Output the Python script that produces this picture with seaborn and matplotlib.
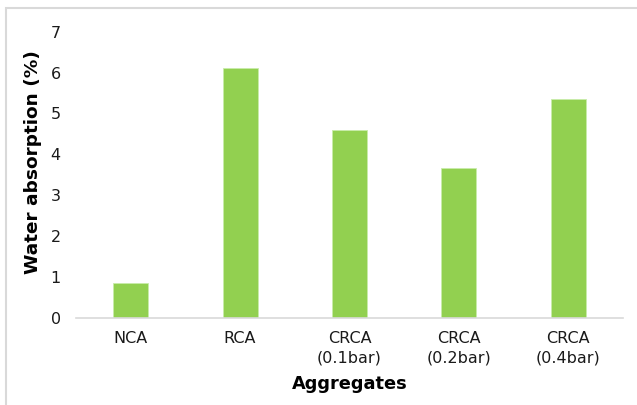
import matplotlib
matplotlib.use('Agg')
import matplotlib.pyplot as plt
from matplotlib.patches import Rectangle
import seaborn as sns
import pandas as pd

# data
aggregates = ["NCA", "RCA", "CRCA\n(0.1bar)", "CRCA\n(0.2bar)", "CRCA\n(0.4bar)"]
water_absorption = [0.85, 6.1, 4.6, 3.67, 5.36]
y_ticks = [0, 1, 2, 3, 4, 5, 6, 7]

sns.set_style("white")
plt.rcParams['font.family'] = ['DejaVu Sans']

df = pd.DataFrame({"Aggregates": aggregates, "Water absorption (%)": water_absorption})

fig = plt.figure(figsize=(6.37, 4.05), dpi=100)
ax = fig.add_axes([0.1193, 0.216, 0.8587, 0.7057])

sns.barplot(data=df, x="Aggregates", y="Water absorption (%)", color="#92d050",
            saturation=1, width=0.32, edgecolor="#c8ecaa", linewidth=0.6, ax=ax)

ax.set_ylim(0, 7)
ax.set_yticks(y_ticks)
ax.set_xlim(-0.5, len(aggregates) - 0.5)

ax.set_xlabel("Aggregates", fontsize=12.8, fontweight="bold", color="black")
ax.set_ylabel("Water absorption (%)", fontsize=13.3, fontweight="bold", color="black")
ax.xaxis.set_label_coords(0.5, -0.2326)
ax.xaxis.label.set_va("center")
ax.yaxis.set_label_coords(-0.078, 0.544)
ax.yaxis.label.set_va("center")

ax.tick_params(axis="y", length=0, pad=11, labelsize=11.5, colors="#1a1a1a")
ax.tick_params(axis="x", length=0, pad=10, labelsize=11.5, colors="#1a1a1a")
for lbl in ax.get_xticklabels():
    lbl.set_linespacing(1.35)

for side in ["top", "right", "left"]:
    ax.spines[side].set_visible(False)
ax.spines["bottom"].set_color("#d9d9d9")
ax.spines["bottom"].set_linewidth(1.2)

# light chart-area frame (runs off the right and bottom edges)
fig.patches.append(Rectangle((6 / 637, -0.1), 1.0, 1 - 8 / 405 + 0.1,
                             transform=fig.transFigure, fill=False,
                             edgecolor="#d9d9d9", linewidth=1.5))

fig.savefig("out.png", dpi=100, facecolor="white")
